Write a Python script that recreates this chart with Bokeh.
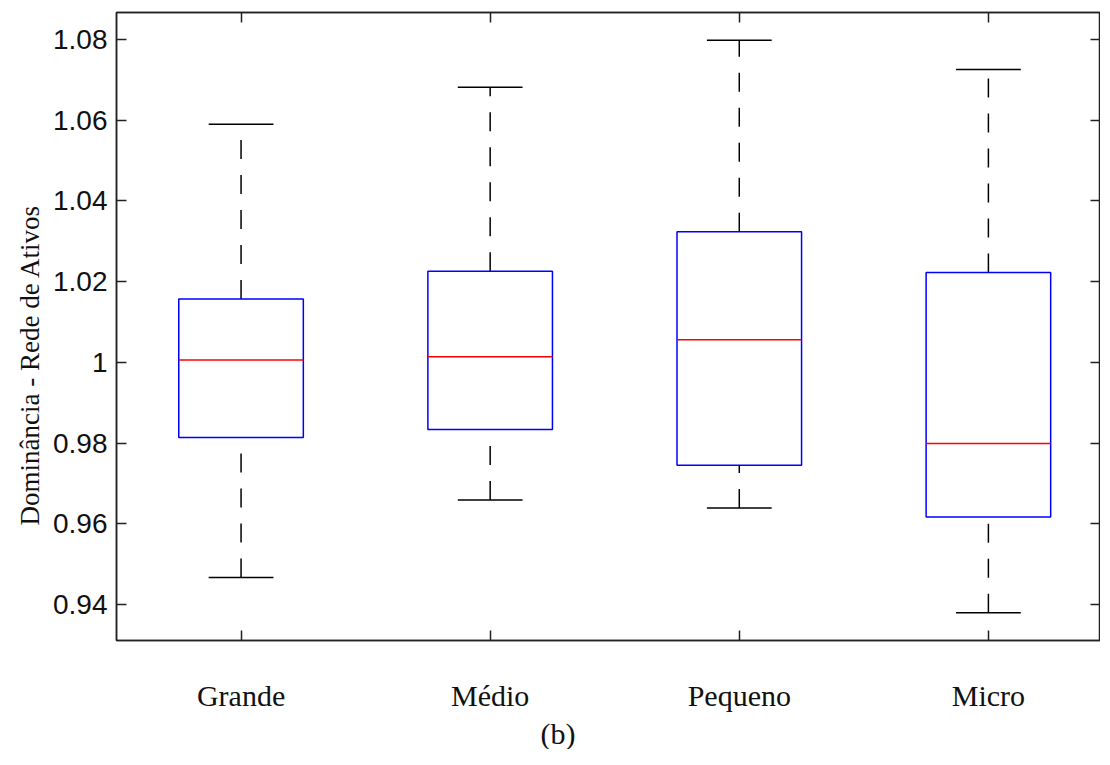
from bokeh.plotting import figure
from bokeh.models import (FixedTicker, LinearAxis, Range1d, Title, ColumnDataSource)
from bokeh.embed import file_html
from bokeh.resources import INLINE

categories = ["Grande", "Médio", "Pequeno", "Micro"]
positions = [1, 2, 3, 4]
lower_whisker = [0.9467, 0.9659, 0.9639, 0.9380]
q1 = [0.9814, 0.9834, 0.9745, 0.9617]
median = [1.0006, 1.0014, 1.0056, 0.9799]
q3 = [1.0157, 1.0226, 1.0324, 1.0223]
upper_whisker = [1.0590, 1.0682, 1.0798, 1.0726]
y_ticks = [0.94, 0.96, 0.98, 1.0, 1.02, 1.04, 1.06, 1.08]
y_tick_labels = ["0.94", "0.96", "0.98", "1", "1.02", "1.04", "1.06", "1.08"]

box_w = 0.25   # half width
cap_w = 0.13   # half width

src = ColumnDataSource(dict(
    x=positions,
    left=[x - box_w for x in positions],
    right=[x + box_w for x in positions],
    cl=[x - cap_w for x in positions],
    cr=[x + cap_w for x in positions],
    lw=lower_whisker, q1=q1, med=median, q3=q3, uw=upper_whisker,
))

p = figure(width=1100, height=749, output_backend="svg", toolbar_location=None,
           x_range=Range1d(0.5, 4.45), y_range=Range1d(0.9311, 1.0867),
           min_border_left=116, min_border_top=12, min_border_right=0,
           min_border_bottom=20)
p.xgrid.visible = False
p.ygrid.visible = False
p.outline_line_color = "#222222"
p.outline_line_width = 1.5

# whiskers
p.segment(x0="x", y0="q3", x1="x", y1="uw", source=src, line_color="black",
          line_width=1.5, line_dash="19 16")
p.segment(x0="x", y0="lw", x1="x", y1="q1", source=src, line_color="black",
          line_width=1.5, line_dash="19 16")
# caps
p.segment(x0="cl", y0="uw", x1="cr", y1="uw", source=src, line_color="black", line_width=1.5)
p.segment(x0="cl", y0="lw", x1="cr", y1="lw", source=src, line_color="black", line_width=1.5)
# boxes
p.quad(left="left", right="right", bottom="q1", top="q3", source=src,
       fill_color=None, line_color="#0000ff", line_width=1.5)
# medians
p.segment(x0="left", y0="med", x1="right", y1="med", source=src,
          line_color="#ff0000", line_width=1.5)

def style_axis(ax, ticks, show_labels):
    ax.ticker = FixedTicker(ticks=ticks)
    ax.major_tick_in = 10
    ax.major_tick_out = 0
    ax.minor_tick_in = 0
    ax.minor_tick_out = 0
    ax.axis_line_color = "#222222"
    ax.axis_line_width = 1.5
    ax.major_tick_line_color = "#222222"
    ax.major_tick_line_width = 1.5
    if not show_labels:
        ax.major_label_text_font_size = "0px"
        ax.major_label_text_alpha = 0
        ax.major_label_standoff = 0

xa = p.xaxis[0]
style_axis(xa, positions, True)
xa.major_label_overrides = {pos: c for pos, c in zip(positions, categories)}
xa.major_label_text_font = "Liberation Serif"
xa.major_label_text_font_size = "30px"
xa.major_label_text_color = "#111111"
xa.major_label_standoff = 38

ya = p.yaxis[0]
style_axis(ya, y_ticks, True)
ya.major_label_overrides = {t: l for t, l in zip(y_ticks, y_tick_labels)}
ya.major_label_text_font = "Liberation Sans"
ya.major_label_text_font_size = "28px"
ya.major_label_text_color = "#111111"
ya.major_label_standoff = 9

top_ax = LinearAxis()
style_axis(top_ax, positions, False)
p.add_layout(top_ax, "above")
right_ax = LinearAxis()
style_axis(right_ax, y_ticks, False)
p.add_layout(right_ax, "right")

ytitle = Title(text="Dominância - Rede de Ativos", align="left", offset=115,
               text_font="Liberation Serif", text_font_size="27px",
               text_font_style="normal", text_color="#111111", standoff=12)
p.add_layout(ytitle, "left")

cap = Title(text="(b)", align="left", offset=424, text_font="Liberation Serif",
            text_font_size="30px", text_font_style="normal", text_color="#111111",
            standoff=0)
p.add_layout(cap, "below")

open("out.html", "w").write(file_html(p, INLINE))
